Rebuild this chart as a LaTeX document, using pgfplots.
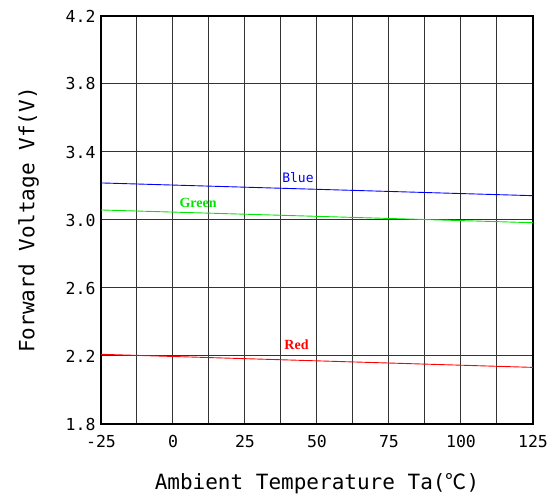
\documentclass[border=0pt]{standalone}
\usepackage{pgfplots}
\pgfplotsset{compat=1.18}
\usepackage{fontspec}
\setmainfont{DejaVu Sans Mono}
\newfontfamily\cjk{Noto Sans CJK JP}
\newfontfamily\serifb{Liberation Serif}
\definecolor{mygreen}{RGB}{0,230,0}
\begin{document}
\begin{tikzpicture}
\begin{axis}[
  scale only axis, width=432pt, height=408pt,
  xmin=-25, xmax=125, ymin=1.8, ymax=4.2,
  xtick={-25,0,25,50,75,100,125},
  xticklabels={-25,0,25,50,75,100,125},
  minor xtick={-12.5,12.5,37.5,62.5,87.5,112.5},
  ytick={1.8,2.2,2.6,3.0,3.4,3.8,4.2},
  yticklabels={1.8,2.2,2.6,3.0,3.4,3.8,4.2},
  xmajorgrids, xminorgrids, ymajorgrids,
  major grid style={black!80, line width=1pt},
  minor grid style={black!80, line width=1pt},
  axis line style={line width=1.4pt},
  major tick length=0pt, minor tick length=0pt,
  tick label style={font=\fontsize{16.5}{16.5}\selectfont},
  xticklabel style={yshift=-8pt},
  yticklabel style={xshift=-2pt},
  label style={font=\fontsize{21}{21}\selectfont},
  xlabel={Ambient Temperature Ta(\smash{\cjk ℃})},
  ylabel={Forward Voltage Vf(V)},
  xlabel style={inner sep=0pt, yshift=-22pt},
  ylabel style={yshift=20pt},
]
\addplot[blue, line width=0.9pt] coordinates {(-25,3.218) (125,3.143)};
\addplot[mygreen, line width=0.9pt] coordinates {(-25,3.059) (125,2.984)};
\addplot[red, line width=0.9pt] coordinates {(-25,2.21) (125,2.133)};
\node[text=blue, font=\fontsize{13}{13}\selectfont] at (axis cs:43.4,3.247) {Blue};
\node[text=mygreen, font=\serifb\bfseries\fontsize{14}{14}\selectfont] at (axis cs:8.7,3.100) {Green};
\node[text=red, font=\serifb\bfseries\fontsize{14}{14}\selectfont] at (axis cs:42.9,2.265) {Red};
\end{axis}
\path (current axis.south west) ++(-101pt,-73pt) rectangle ++(555pt,497pt);
\end{tikzpicture}
\end{document}
